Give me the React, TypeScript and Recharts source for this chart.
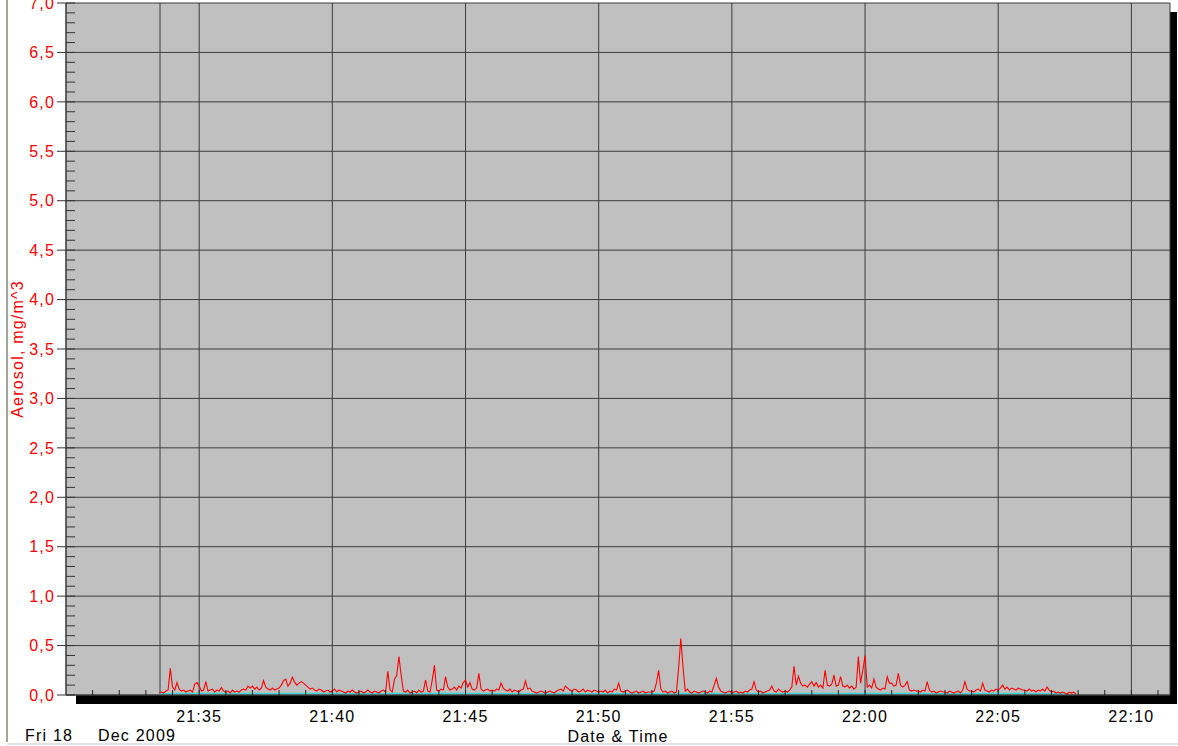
import React from "react";
import { LineChart, Line, XAxis, YAxis, CartesianGrid, ReferenceLine } from "recharts";

// minutes after 21:30; one row per minute, one value every 5 seconds (mg/m^3)
const FIRST_MINUTE = 3;
const aerosolRows: (number | null)[][] = [
  [null, null, null, null, null, null, 0.02, 0.03, 0.02, 0.04, 0.05, 0.27], // 21:33
  [0.08, 0.05, 0.125, 0.06, 0.04, 0.05, 0.03, 0.04, 0.05, 0.03, 0.11, 0.125],
  [0.09, 0.04, 0.05, 0.135, 0.04, 0.05, 0.06, 0.03, 0.05, 0.04, 0.075, 0.04], // 21:35
  [0.03, 0.04, 0.02, 0.05, 0.03, 0.04, 0.03, 0.05, 0.06, 0.05, 0.09, 0.07],
  [0.09, 0.06, 0.08, 0.05, 0.07, 0.145, 0.08, 0.06, 0.05, 0.07, 0.05, 0.06],
  [0.07, 0.1, 0.145, 0.16, 0.09, 0.12, 0.18, 0.13, 0.1, 0.12, 0.135, 0.12],
  [0.1, 0.08, 0.06, 0.07, 0.05, 0.04, 0.06, 0.05, 0.03, 0.04, 0.05, 0.03],
  [0.04, 0.06, 0.03, 0.05, 0.04, 0.03, 0.02, 0.04, 0.03, 0.05, 0.03, 0.02], // 21:40
  [0.03, 0.04, 0.02, 0.03, 0.05, 0.03, 0.02, 0.04, 0.03, 0.02, 0.04, 0.05],
  [0.03, 0.24, 0.05, 0.03, 0.16, 0.2, 0.39, 0.2, 0.04, 0.03, 0.05, 0.02],
  [0.03, 0.04, 0.02, 0.05, 0.03, 0.04, 0.15, 0.04, 0.03, 0.15, 0.3, 0.05],
  [0.04, 0.06, 0.05, 0.185, 0.08, 0.05, 0.06, 0.08, 0.05, 0.09, 0.07, 0.125],
  [0.15, 0.08, 0.125, 0.06, 0.05, 0.07, 0.22, 0.06, 0.04, 0.05, 0.06, 0.04], // 21:45
  [0.05, 0.04, 0.06, 0.05, 0.12, 0.07, 0.05, 0.04, 0.06, 0.03, 0.05, 0.04],
  [0.03, 0.05, 0.06, 0.14, 0.06, 0.07, 0.04, 0.03, 0.02, 0.03, 0.04, 0.03],
  [0.02, 0.03, 0.04, 0.03, 0.02, 0.04, 0.05, 0.06, 0.04, 0.09, 0.07, 0.05],
  [0.04, 0.06, 0.05, 0.03, 0.04, 0.06, 0.03, 0.05, 0.04, 0.03, 0.05, 0.04],
  [0.03, 0.04, 0.03, 0.05, 0.02, 0.04, 0.03, 0.06, 0.05, 0.12, 0.04, 0.03], // 21:50
  [0.04, 0.05, 0.03, 0.02, 0.03, 0.04, 0.02, 0.03, 0.04, 0.02, 0.03, 0.03],
  [0.03, 0.04, 0.12, 0.25, 0.06, 0.03, 0.04, 0.02, 0.03, 0.04, 0.02, 0.03],
  [0.27, 0.57, 0.28, 0.04, 0.06, 0.03, 0.02, 0.04, 0.03, 0.02, 0.03, 0.04],
  [0.03, 0.02, 0.04, 0.03, 0.1, 0.17, 0.08, 0.04, 0.03, 0.02, 0.03, 0.04],
  [0.02, 0.03, 0.04, 0.02, 0.03, 0.02, 0.04, 0.03, 0.05, 0.06, 0.135, 0.05], // 21:55
  [0.03, 0.04, 0.02, 0.03, 0.04, 0.05, 0.09, 0.04, 0.03, 0.06, 0.04, 0.03],
  [0.04, 0.03, 0.05, 0.08, 0.29, 0.1, 0.19, 0.12, 0.09, 0.1, 0.08, 0.11],
  [0.135, 0.09, 0.125, 0.08, 0.1, 0.07, 0.25, 0.1, 0.09, 0.11, 0.2, 0.09],
  [0.1, 0.185, 0.09, 0.08, 0.1, 0.07, 0.09, 0.06, 0.08, 0.39, 0.12, 0.25],
  [0.4, 0.08, 0.1, 0.07, 0.16, 0.08, 0.06, 0.05, 0.07, 0.06, 0.185, 0.12], // 22:00
  [0.12, 0.09, 0.1, 0.22, 0.1, 0.08, 0.1, 0.135, 0.05, 0.04, 0.05, 0.04],
  [0.04, 0.03, 0.05, 0.04, 0.135, 0.05, 0.03, 0.04, 0.02, 0.03, 0.04, 0.03],
  [0.03, 0.02, 0.04, 0.03, 0.02, 0.03, 0.04, 0.02, 0.05, 0.135, 0.06, 0.04],
  [0.04, 0.03, 0.05, 0.06, 0.04, 0.12, 0.05, 0.04, 0.03, 0.05, 0.04, 0.06],
  [0.05, 0.07, 0.1, 0.06, 0.08, 0.05, 0.07, 0.06, 0.05, 0.07, 0.06, 0.05], // 22:05
  [0.05, 0.04, 0.06, 0.04, 0.05, 0.03, 0.05, 0.04, 0.06, 0.04, 0.08, 0.05],
  [0.03, 0.04, 0.02, 0.03, 0.02, 0.03, 0.02, 0.01, 0.03, 0.02, 0.03, 0.01],
];

// second (cyan) trace, one value per minute
const baselineValues = [
  0.012, 0.015, 0.014, 0.016, 0.013, 0.015, 0.014, 0.012, 0.013, 0.015, 0.014, 0.016,
  0.015, 0.013, 0.012, 0.014, 0.013, 0.012, 0.014, 0.013, 0.015, 0.016, 0.014, 0.013,
  0.015, 0.014, 0.016, 0.015, 0.014, 0.012, 0.013, 0.014, 0.015, 0.013, 0.012,
];

const DATA_START = 3.53; // 21:33:32
const X_DOMAIN: [number, number] = [0, 41.45];
const majorXTicks = [5, 10, 15, 20, 25, 30, 35, 40];
const minorXTicks = Array.from({ length: 41 }, (_, i) => i + 1);
const majorYTicks = [0, 0.5, 1, 1.5, 2, 2.5, 3, 3.5, 4, 4.5, 5, 5.5, 6, 6.5, 7];
const minorYTicks = Array.from({ length: 71 }, (_, i) => i / 10);

const data = aerosolRows.flatMap((row, r) =>
  row.map((v, k) => ({
    t: FIRST_MINUTE + r + k / 12,
    aerosol: v,
    baseline: k === 6 ? baselineValues[r] : undefined,
  }))
);

const fmtTime = (t: number) => {
  const total = Math.round(21 * 60 + 30 + t);
  const h = Math.floor(total / 60);
  const m = total % 60;
  return `${h}:${m < 10 ? "0" : ""}${m}`;
};

const NoLabel = () => <g />;

const font = '"Liberation Sans", Arial, sans-serif';
const txt = { fontSize: 16, fontFamily: font, letterSpacing: 1.2 };

export default function App() {
  return (
    <div
      style={{
        position: "absolute",
        left: 0,
        top: 0,
        width: 1178,
        height: 746,
        background: "#fff",
        overflow: "hidden",
        fontFamily: font,
      }}
    >
      <div style={{ position: "absolute", left: 6, top: 0, width: 2, height: 742, background: "#a3a399" }} />
      <div style={{ position: "absolute", left: 7, top: 743, width: 1171, height: 2, background: "#e2e2e2" }} />
      <div style={{ position: "absolute", left: 76, top: 12, width: 1101, height: 692, background: "#000" }} />
      <div style={{ position: "absolute", left: 0, top: 0 }}>
        <LineChart width={1178} height={746} data={data} margin={{ top: 3, right: 8, bottom: 0, left: 0 }}>
          <CartesianGrid fill="#c0c0c0" fillOpacity={1} stroke="#3c3c3c" strokeWidth={1} />
          <XAxis
            dataKey="t"
            type="number"
            domain={X_DOMAIN}
            allowDataOverflow
            ticks={majorXTicks}
            tickFormatter={fmtTime}
            height={51}
            tickLine={false}
            tickSize={0}
            tickMargin={16}
            axisLine={{ stroke: "#3c3c3c" }}
            tick={{ fill: "#000", ...txt }}
            label={{ value: "Date & Time", position: "insideBottom", offset: 4, fill: "#000", ...txt }}
          />
          <XAxis
            xAxisId="minor"
            dataKey="t"
            type="number"
            domain={X_DOMAIN}
            allowDataOverflow
            ticks={minorXTicks}
            interval={0}
            orientation="bottom"
            mirror
            height={1}
            tick={NoLabel}
            axisLine={false}
            tickSize={5}
            tickLine={{ stroke: "#222" }}
          />
          <YAxis
            type="number"
            domain={[0, 7]}
            ticks={majorYTicks}
            interval={0}
            width={66}
            tickFormatter={(v: number) => v.toFixed(1).replace(".", ",")}
            tickSize={9}
            tickMargin={2}
            tickLine={{ stroke: "#333" }}
            axisLine={{ stroke: "#333" }}
            tick={{ fill: "#ff0000", ...txt }}
            label={{
              value: "Aerosol, mg/m^3",
              angle: -90,
              position: "insideLeft",
              offset: 17,
              fill: "#ff0000",
              ...txt,
              style: { textAnchor: "middle" },
            }}
          />
          <YAxis
            yAxisId="minor"
            type="number"
            domain={[0, 7]}
            allowDataOverflow
            ticks={minorYTicks}
            interval={0}
            orientation="left"
            mirror
            width={1}
            tick={NoLabel}
            axisLine={false}
            tickSize={9}
            tickLine={{ stroke: "#333" }}
          />
          <ReferenceLine x={DATA_START} stroke="#3c3c3c" strokeWidth={1} />
          <Line
            xAxisId="minor"
            yAxisId="minor"
            dataKey="baseline"
            stroke="#3fd5d5"
            strokeWidth={1.5}
            dot={false}
            connectNulls
            isAnimationActive={false}
          />
          <Line
            dataKey="aerosol"
            stroke="#ff0000"
            strokeWidth={1.1}
            dot={false}
            isAnimationActive={false}
          />
        </LineChart>
      </div>
      <div style={{ position: "absolute", left: 25, top: 727, fontSize: 16, letterSpacing: 1.2, lineHeight: "17px", color: "#000" }}>Fri 18</div>
      <div style={{ position: "absolute", left: 98, top: 727, fontSize: 16, letterSpacing: 1.2, lineHeight: "17px", color: "#000" }}>Dec 2009</div>
    </div>
  );
}
